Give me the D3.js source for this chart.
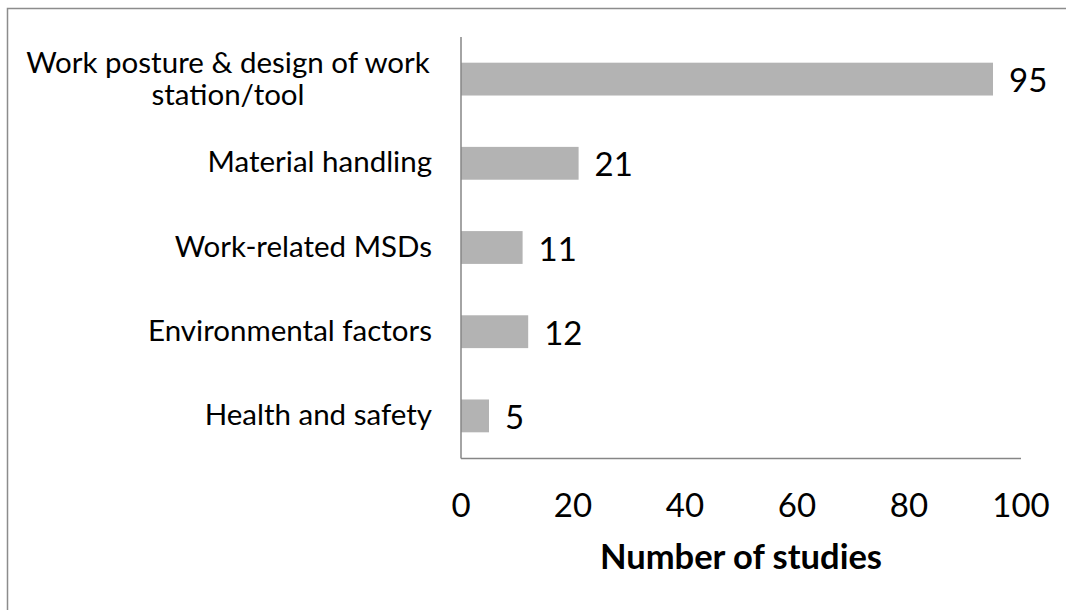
<!DOCTYPE html>
<html>
<head>
<meta charset="utf-8">
<script src="https://cdn.jsdelivr.net/npm/d3@7"></script>
<style>
  body { margin: 0; background: #fff; }
  svg { display: block; font-family: Lato, "Open Sans", sans-serif; }
</style>
</head>
<body>
<div id="chart"></div>
<script>
// chart data
let categories = ["Work posture & design of work station/tool", "Material handling", "Work-related MSDs", "Environmental factors", "Health and safety"];
let categoryLines = [["Work posture & design of work", "station/tool"], ["Material handling"], ["Work-related MSDs"], ["Environmental factors"], ["Health and safety"]];
let studies = [95, 21, 11, 12, 5];
let xTicks = [0, 20, 40, 60, 80, 100];
let xTitle = "Number of studies";

let width = 1066, height = 610;

let svg = d3.select("#chart").append("svg")
  .attr("width", width)
  .attr("height", height);

// outer frame (only left and top edges are visible)
svg.append("path")
  .attr("d", "M7.5,610 L7.5,8.5 L1066,8.5")
  .attr("fill", "none")
  .attr("stroke", "#8c8c8c")
  .attr("stroke-width", 1.5);

let x = d3.scaleLinear().domain([0, 100]).range([461, 1021]);
let y = d3.scaleBand().domain(categories).range([37, 458]).paddingInner(0.61).paddingOuter(0.305);

// bars
svg.selectAll(".bar")
  .data(studies)
  .enter().append("rect")
  .attr("class", "bar")
  .attr("x", x(0))
  .attr("y", (d, i) => y(categories[i]))
  .attr("width", d => x(d) - x(0))
  .attr("height", y.bandwidth())
  .attr("fill", "#b3b3b3");

// value labels
svg.selectAll(".val")
  .data(studies)
  .enter().append("text")
  .attr("class", "val")
  .attr("x", d => x(d) + 16)
  .attr("y", (d, i) => y(categories[i]) + y.bandwidth() / 2 + 13)
  .attr("font-size", 33)
  .attr("fill", "#000")
  .text(d => d);

// axis lines
svg.append("line")
  .attr("x1", x(0)).attr("x2", x(0))
  .attr("y1", 37).attr("y2", 458.5)
  .attr("stroke", "#868686").attr("stroke-width", 1.5);
svg.append("line")
  .attr("x1", x(0)).attr("x2", x(100))
  .attr("y1", 458.5).attr("y2", 458.5)
  .attr("stroke", "#868686").attr("stroke-width", 1.5);

// tick labels
svg.selectAll(".tick")
  .data(xTicks)
  .enter().append("text")
  .attr("class", "tick")
  .attr("x", d => x(d))
  .attr("y", 517)
  .attr("text-anchor", "middle")
  .attr("font-size", 33)
  .text(d => d);

// category labels
categoryLines.forEach(function(lines, i) {
  let cy = y(categories[i]) + y.bandwidth() / 2;
  if (lines.length > 1) {
    let t = svg.append("text")
      .attr("text-anchor", "middle")
      .attr("font-size", 29.5);
    lines.forEach(function(l, j) {
      t.append("tspan").attr("x", 228).attr("y", cy - 6 + j * 32).text(l);
    });
  } else {
    svg.append("text")
      .attr("x", 432)
      .attr("y", cy + 9)
      .attr("text-anchor", "end")
      .attr("font-size", 29.5)
      .text(lines[0]);
  }
});

// axis title
svg.append("text")
  .attr("x", (x(0) + x(100)) / 2)
  .attr("y", 569)
  .attr("text-anchor", "middle")
  .attr("font-size", 34.5)
  .attr("font-weight", "bold")
  .text(xTitle);
</script>
</body>
</html>
